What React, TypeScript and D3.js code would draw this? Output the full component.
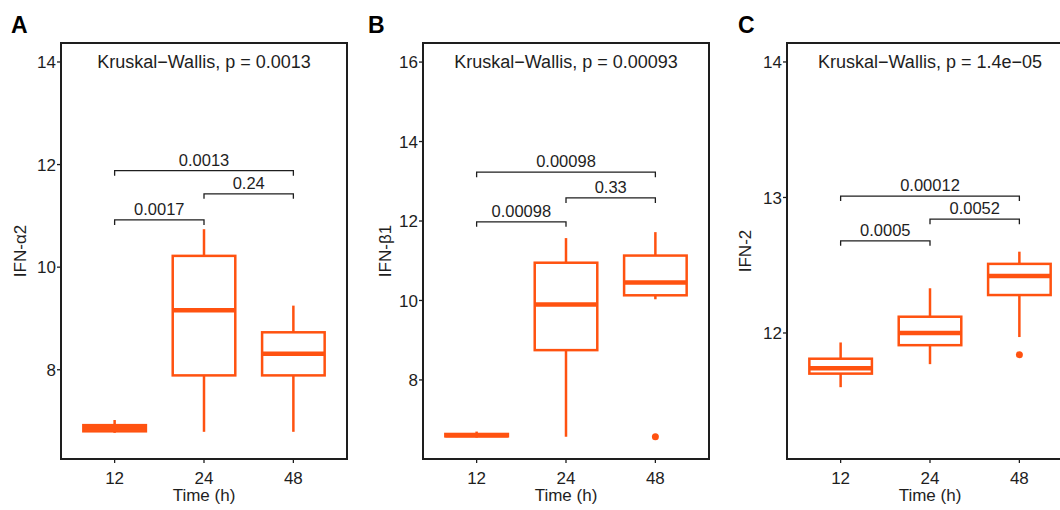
import React from "react";
import * as d3 from "d3";

// categories
const times = ["12", "24", "48"];

// box stats per time: [lower whisker, q1, median, q3, upper whisker]
const ifnA2Stats = [
  [6.77, 6.8, 6.86, 6.92, 7.02],
  [6.79, 7.89, 9.16, 10.22, 10.74],
  [6.79, 7.89, 8.31, 8.73, 9.25],
];
const ifnA2Outliers: number[][] = [[], [], []];
const ifnA2Ticks = [8, 10, 12, 14];
const ifnA2Pairs = [
  { from: "12", to: "24", y: 10.92, label: "0.0017" },
  { from: "24", to: "48", y: 11.43, label: "0.24" },
  { from: "12", to: "48", y: 11.88, label: "0.0013" },
];

const ifnB1Stats = [
  [6.55, 6.58, 6.61, 6.64, 6.7],
  [6.57, 8.75, 9.9, 10.95, 11.57],
  [10.03, 10.13, 10.45, 11.13, 11.72],
];
const ifnB1Outliers: number[][] = [[], [], [6.57]];
const ifnB1Ticks = [8, 10, 12, 14, 16];
const ifnB1Pairs = [
  { from: "12", to: "24", y: 11.98, label: "0.00098" },
  { from: "24", to: "48", y: 12.58, label: "0.33" },
  { from: "12", to: "48", y: 13.23, label: "0.00098" },
];

const ifn2Stats = [
  [11.6, 11.7, 11.74, 11.81, 11.93],
  [11.77, 11.91, 12.0, 12.12, 12.33],
  [11.97, 12.28, 12.42, 12.51, 12.6],
];
const ifn2Outliers: number[][] = [[], [], [11.84]];
const ifn2Ticks = [12, 13, 14];
const ifn2Pairs = [
  { from: "12", to: "24", y: 12.68, label: "0.0005" },
  { from: "24", to: "48", y: 12.84, label: "0.0052" },
  { from: "12", to: "48", y: 13.01, label: "0.00012" },
];

const panels = [
  { tag: "A", ylab: "IFN-α2", kw: "Kruskal−Wallis, p = 0.0013", domain: [6.26, 14.37], stats: ifnA2Stats, outliers: ifnA2Outliers, ticks: ifnA2Ticks, pairs: ifnA2Pairs, left: 61, tagX: 11, ylabX: 26 },
  { tag: "B", ylab: "IFN-β1", kw: "Kruskal−Wallis, p = 0.00093", domain: [6.01, 16.48], stats: ifnB1Stats, outliers: ifnB1Outliers, ticks: ifnB1Ticks, pairs: ifnB1Pairs, left: 423, tagX: 368, ylabX: 391 },
  { tag: "C", ylab: "IFN-2", kw: "Kruskal−Wallis, p = 1.4e−05", domain: [11.07, 14.14], stats: ifn2Stats, outliers: ifn2Outliers, ticks: ifn2Ticks, pairs: ifn2Pairs, left: 787, tagX: 738, ylabX: 751 },
];

const W = 1060;
const H = 510;
const panelW = 286;
const top = 43;
const bottom = 459;
const orange = "#FF5210";
const ink = "#1e1e1e";
const font = "'Liberation Sans', Arial, sans-serif";

function Panel(props: any) {
  const { p } = props;
  const x = d3.scalePoint().domain(times).range([p.left, p.left + panelW]).padding(0.6);
  const y = d3.scaleLinear().domain(p.domain).range([bottom, top]);
  const step = x.step();
  const bw = step * 0.7;
  const cx = (p.left + p.left + panelW) / 2;

  return (
    <g fontFamily={font}>
      <text x={p.tagX} y={33} fontSize={23} fontWeight="bold" fill="#000">{p.tag}</text>

      {/* boxes */}
      {times.map((t, i) => {
        const [lo, q1, md, q3, hi] = p.stats[i];
        const px = x(t) as number;
        return (
          <g key={t} stroke={orange} fill="none">
            <line x1={px} x2={px} y1={y(q3)} y2={y(hi)} strokeWidth={2.5} />
            <line x1={px} x2={px} y1={y(q1)} y2={y(lo)} strokeWidth={2.5} />
            <rect x={px - bw / 2} y={y(q3)} width={bw} height={y(q1) - y(q3)} fill="#fff" strokeWidth={2.5} />
            <line x1={px - bw / 2} x2={px + bw / 2} y1={y(md)} y2={y(md)} strokeWidth={4.5} />
            {p.outliers[i].map((v: number, j: number) => (
              <circle key={j} cx={px} cy={y(v)} r={3.5} fill={orange} stroke="none" />
            ))}
          </g>
        );
      })}

      {/* pairwise brackets */}
      {p.pairs.map((b: any, i: number) => {
        const x1 = x(b.from) as number;
        const x2 = x(b.to) as number;
        const yy = y(b.y);
        return (
          <g key={i}>
            <path d={`M${x1},${yy + 5}V${yy}H${x2}V${yy + 5}`} fill="none" stroke={ink} strokeWidth={1.3} />
            <text x={(x1 + x2) / 2} y={yy - 5} textAnchor="middle" fontSize={16.5} fill={ink}>{b.label}</text>
          </g>
        );
      })}

      <text x={cx} y={top + 25} textAnchor="middle" fontSize={18} fill={ink}>{p.kw}</text>

      {/* frame */}
      <rect x={p.left} y={top} width={panelW} height={bottom - top} fill="none" stroke={ink} strokeWidth={2} />

      {/* y axis */}
      {p.ticks.map((v: number) => (
        <g key={v}>
          <line x1={p.left - 4} x2={p.left} y1={y(v)} y2={y(v)} stroke={ink} strokeWidth={1.3} />
          <text x={p.left - 5} y={y(v)} dy="0.36em" textAnchor="end" fontSize={17} fill={ink}>{v}</text>
        </g>
      ))}
      <text transform={`translate(${p.ylabX},${(top + bottom) / 2}) rotate(-90)`} textAnchor="middle" fontSize={17} fill={ink}>{p.ylab}</text>

      {/* x axis */}
      {times.map((t) => (
        <g key={t}>
          <line x1={x(t)} x2={x(t)} y1={bottom} y2={bottom + 4} stroke={ink} strokeWidth={1.3} />
          <text x={x(t)} y={484} textAnchor="middle" fontSize={17} fill={ink}>{t}</text>
        </g>
      ))}
      <text x={x("24")} y={501} textAnchor="middle" fontSize={17} fill={ink}>Time (h)</text>
    </g>
  );
}

export default function App() {
  return (
    <svg width={W} height={H} style={{ position: "absolute", left: 0, top: 0, background: "#fff" }}>
      <rect width={W} height={H} fill="#fff" />
      {panels.map((p) => (
        <Panel key={p.tag} p={p} />
      ))}
    </svg>
  );
}
